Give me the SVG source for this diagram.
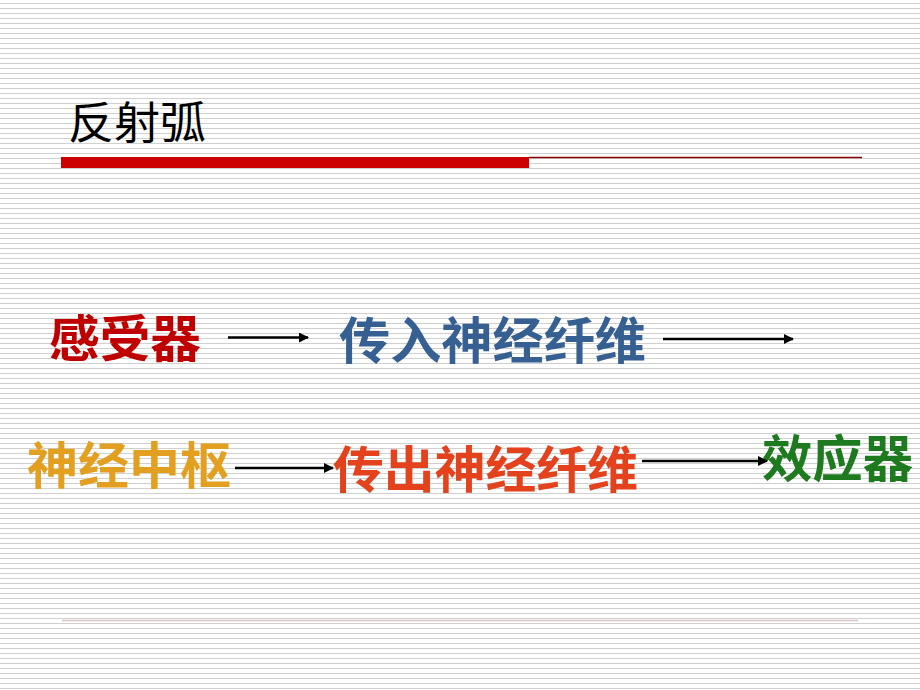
<svg xmlns="http://www.w3.org/2000/svg" width="920" height="690" viewBox="0 0 920 690">
<defs>
<pattern id="stripes" x="0" y="0" width="10" height="5" patternUnits="userSpaceOnUse">
<rect x="0" y="0" width="10" height="5" fill="#ffffff"/>
<rect x="0" y="3" width="10" height="1" fill="#d0d0d0"/>
</pattern>
<marker id="arr" viewBox="0 0 10 10" refX="9" refY="5" markerWidth="4" markerHeight="4" orient="auto" markerUnits="strokeWidth">
<path d="M0,0 L10,5 L0,10 Z" fill="#000"/>
</marker>
<style>
.t{font-family:"Noto Sans CJK SC","Noto Sans CJK TC",sans-serif;font-weight:bold;font-size:50px}
.title{font-family:"Noto Sans CJK SC",sans-serif;font-weight:400;font-size:44px;fill:#000}
.c{stroke:#000;stroke-width:2.5;fill:none;marker-end:url(#arr)}
</style>
</defs>
<rect width="920" height="690" fill="url(#stripes)"/>
<g id="header">
<text class="title" x="68" y="139" textLength="138" lengthAdjust="spacingAndGlyphs">反射弧</text>
<rect x="61" y="157" width="468" height="11" fill="#cc0000"/>
<line x1="529" y1="157.5" x2="862" y2="157.5" stroke="#8b0000" stroke-width="1.5"/>
</g>
<line id="footer" x1="62" y1="620.5" x2="858" y2="620.5" stroke="#d8c4c4" stroke-width="1.5"/>
<g id="n1"><text class="t" x="49" y="357" fill="#c00000" textLength="152" lengthAdjust="spacingAndGlyphs">感受器</text></g>
<g id="n2"><text class="t" x="339" y="359" fill="#376092" textLength="307" lengthAdjust="spacingAndGlyphs">传入神经纤维</text></g>
<g id="n3"><text class="t" x="27" y="484" fill="#e3a020" textLength="204" lengthAdjust="spacingAndGlyphs">神经中枢</text></g>
<g id="n4"><text class="t" x="333" y="488" fill="#e4421c" textLength="305" lengthAdjust="spacingAndGlyphs">传出神经纤维</text></g>
<g id="n5"><text class="t" x="762" y="477" fill="#1e7a1e" textLength="151" lengthAdjust="spacingAndGlyphs">效应器</text></g>
<g id="connectors">
<line class="c" x1="228" y1="337.5" x2="308" y2="337.5"/>
<line class="c" x1="663" y1="339" x2="793" y2="339"/>
<line class="c" x1="235" y1="468" x2="333" y2="468"/>
<line class="c" x1="642" y1="461" x2="767" y2="461"/>
</g>
</svg>
